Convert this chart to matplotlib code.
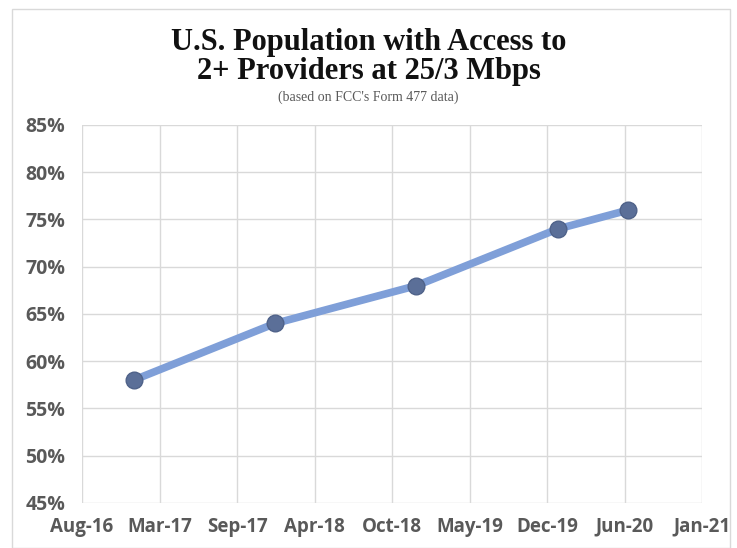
import matplotlib
matplotlib.use("Agg")
import matplotlib.pyplot as plt
import matplotlib.dates as mdates
import numpy as np
import datetime as dt
from matplotlib.patches import Rectangle

# Data
dates = ["2016-12-31", "2017-12-31", "2018-12-31", "2019-12-31", "2020-06-30"]
values = [58, 64, 68, 74, 76]
x_tick_labels = ["Aug-16", "Mar-17", "Sep-17", "Apr-18", "Oct-18", "May-19", "Dec-19", "Jun-20", "Jan-21"]
y_ticks = [45, 50, 55, 60, 65, 70, 75, 80, 85]

axis_start = dt.date(2016, 8, 20)
tick_step_days = 200

fig = plt.figure(figsize=(7.37, 5.48), dpi=100)
ax = fig.add_axes([82/737, 1 - 503/548, (702-82)/737, (503-125)/548])

xd = [mdates.date2num(dt.date.fromisoformat(d)) for d in dates]
ax.plot(xd, values, color="#7f9fd8", lw=5.5, solid_capstyle="round", zorder=3)
ax.plot(xd, values, "o", ms=12, color="#5b6f98", mec="#4f6289", mew=1, zorder=4)

xt = [mdates.date2num(axis_start + dt.timedelta(days=tick_step_days * i)) for i in range(len(x_tick_labels))]
ax.set_xlim(xt[0], xt[-1])
ax.set_xticks(xt)
ax.set_xticklabels(x_tick_labels)
ax.set_ylim(45, 85)
ax.set_yticks(y_ticks)
ax.set_yticklabels([f"{v}%" for v in y_ticks])

ax.grid(True, color="#d9d9d9", lw=1)
ax.set_axisbelow(True)
for s in ax.spines.values():
    s.set_visible(False)
ax.tick_params(length=0, labelsize=14, labelcolor="#595959")
ax.tick_params(axis="x", pad=10, labelsize=13.5)
ax.tick_params(axis="y", pad=12)
for lab in ax.get_xticklabels() + ax.get_yticklabels():
    lab.set_fontweight("bold")
    lab.set_family("Open Sans")

fig.text(0.5, 1 - 57/548, "U.S. Population with Access to\n2+ Providers at 25/3 Mbps",
         ha="center", va="center", family="Liberation Serif", fontweight="bold",
         fontsize=22, linespacing=1.0, color="#111111")
fig.text(0.5, 1 - 97/548, "(based on FCC's Form 477 data)", ha="center", va="center",
         family="Liberation Serif", fontsize=10, color="#595959")

fig.patches.append(Rectangle((12/737, 0), (730-12)/737, 1 - 9/548, transform=fig.transFigure,
                             fill=False, ec="#d9d9d9", lw=1))

fig.savefig("out.png", dpi=100)
